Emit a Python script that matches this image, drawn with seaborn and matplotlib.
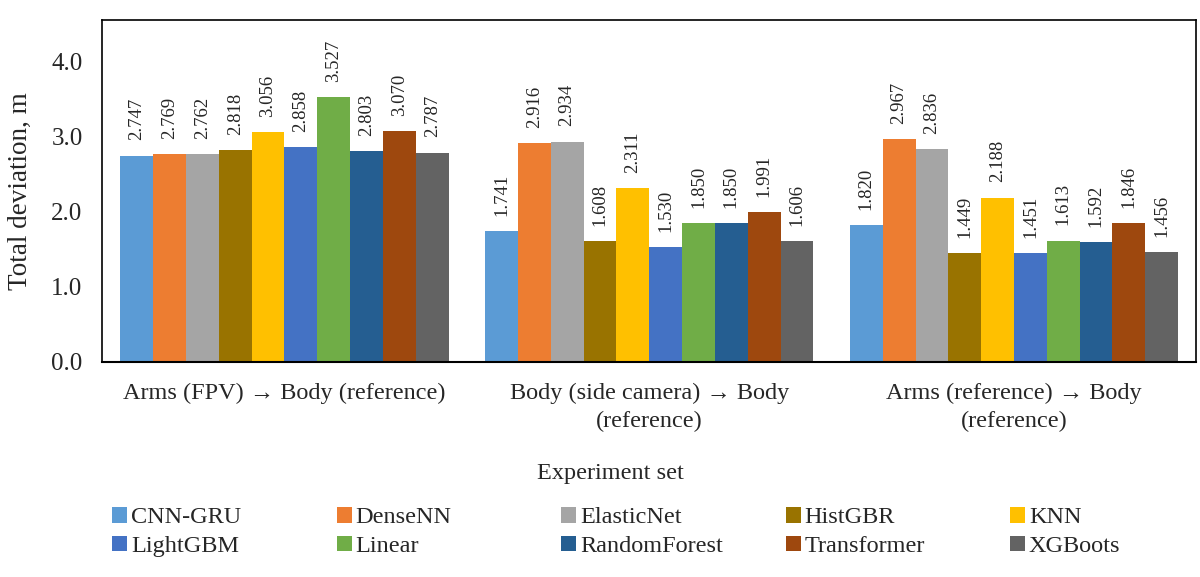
import matplotlib
matplotlib.use("Agg")
import matplotlib.pyplot as plt
import seaborn as sns
import pandas as pd
import numpy as np
from matplotlib.patches import Patch

categories = ["Arms (FPV) \u2192 Body (reference)",
              "Body (side camera) \u2192 Body\n(reference)",
              "Arms (reference) \u2192 Body\n(reference)"]
models = ["CNN-GRU", "DenseNN", "ElasticNet", "HistGBR", "KNN",
          "LightGBM", "Linear", "RandomForest", "Transformer", "XGBoots"]
cnn_gru = [2.747, 1.741, 1.820]
densenn = [2.769, 2.916, 2.967]
elasticnet = [2.762, 2.934, 2.836]
histgbr = [2.818, 1.608, 1.449]
knn = [3.056, 2.311, 2.188]
lightgbm = [2.858, 1.530, 1.451]
linear = [3.527, 1.850, 1.613]
randomforest = [2.803, 1.850, 1.592]
transformer = [3.070, 1.991, 1.846]
xgboots = [2.787, 1.606, 1.456]
colors = ["#5B9BD5", "#ED7D31", "#A5A5A5", "#997300", "#FFC000",
          "#4472C4", "#70AD47", "#255E91", "#9E480E", "#636363"]

series = [cnn_gru, densenn, elasticnet, histgbr, knn, lightgbm, linear,
          randomforest, transformer, xgboots]
rows = []
for m, vals in zip(models, series):
    for c, v in zip(categories, vals):
        rows.append({"Experiment set": c, "Model": m, "Value": v})
df = pd.DataFrame(rows)

sns.set_theme(style="white")
plt.rcParams["font.family"] = ["Liberation Serif", "DejaVu Serif"]

fig = plt.figure(figsize=(12, 5.77), dpi=100)
ax = fig.add_axes([0.085, 0.373, 0.912, 0.592])
sns.barplot(data=df, x="Experiment set", y="Value", hue="Model",
            hue_order=models, order=categories, palette=colors,
            width=0.9, gap=0, saturation=1, ax=ax, legend=False,
            edgecolor="none", linewidth=0)

for cont in ax.containers:
    ax.bar_label(cont, fmt="%.3f", rotation=90, padding=11, fontsize=13.5)

ax.set_ylim(0, 4.55)
ax.set_xlim(-0.5, 2.5)
ax.set_yticks([0, 1, 2, 3, 4])
ax.set_yticklabels(["0.0", "1.0", "2.0", "3.0", "4.0"], fontsize=18)
ax.tick_params(axis="y", length=0, pad=14)
ax.set_xticks([0, 1, 2])
ax.set_xticklabels(categories, fontsize=17.5)
ax.tick_params(axis="x", which="major", length=0, pad=15)
for t in ax.xaxis.get_major_ticks():
    t.label1.set_linespacing(1.45)
ax.set_xticks([-0.5, 0.5, 1.5, 2.5], minor=True)
ax.tick_params(axis="x", which="minor", length=10, width=1, color="black", direction="out")
ax.set_ylabel("Total deviation, m", fontsize=19.5)
ax.yaxis.set_label_coords(-0.063, 0.5)
ax.set_xlabel("Experiment set", fontsize=17.5)
ax.xaxis.set_label_coords(0.465, -0.297)
for s in ax.spines.values():
    s.set_visible(True)
    s.set_color("black")
    s.set_linewidth(1.2)
ax.spines["bottom"].set_linewidth(1.5)

handles = [Patch(facecolor=c, edgecolor="none") for c in colors]
for j in range(5):
    x0 = (117 + 224.5 * j) / 1200
    fig.legend([handles[j], handles[j + 5]], [models[j], models[j + 5]],
               loc="center left", bbox_to_anchor=(x0 - 0.004, 1 - 532 / 577),
               ncol=1, frameon=False, fontsize=17.5, handlelength=0.62,
               handleheight=0.62, handletextpad=0.15, labelspacing=0.3,
               borderaxespad=0, borderpad=0)

fig.savefig("out.png", dpi=100)
